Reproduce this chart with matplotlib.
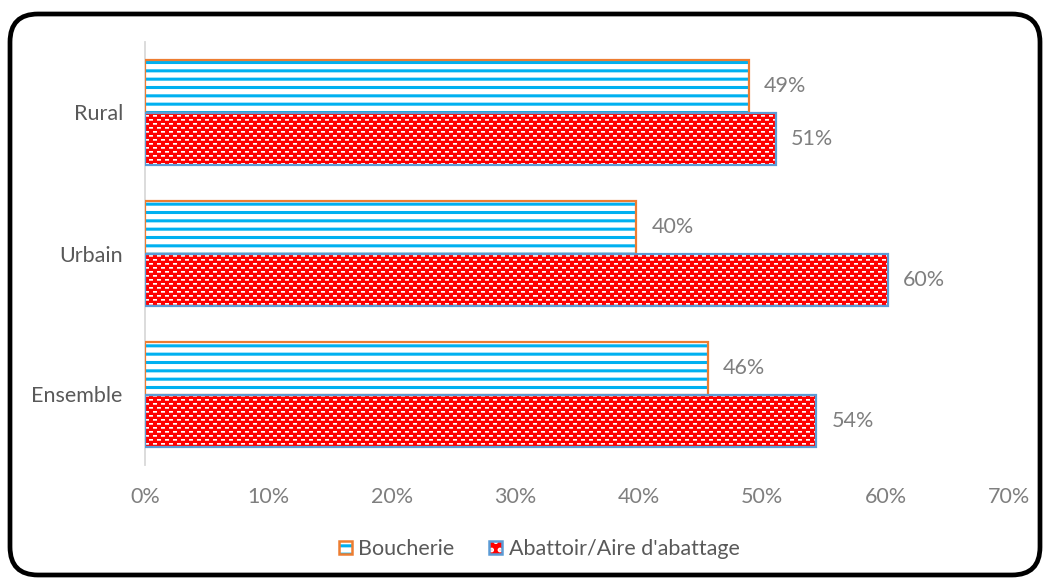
import numpy as np
import matplotlib
matplotlib.use("Agg")
import matplotlib.pyplot as plt
from matplotlib.patches import FancyBboxPatch, Patch
from matplotlib.legend_handler import HandlerTuple
from matplotlib.transforms import IdentityTransform

# Data
categories = ["Ensemble", "Urbain", "Rural"]
boucherie = [45.6, 39.8, 48.9]
abattoir = [54.4, 60.2, 51.1]
series_names = ["Boucherie", "Abattoir/Aire d'abattage"]
xticks = [0, 10, 20, 30, 40, 50, 60, 70]

FONT = ["Lato", "DejaVu Sans"]
plt.rcParams["font.family"] = FONT
FS = 15.5

W, H, DPI = 1045, 581, 100
fig = plt.figure(figsize=(W / DPI, H / DPI), dpi=DPI)
fig.patch.set_facecolor("white")

ax = fig.add_axes([145 / W, 1 - 465 / H, (1009 - 145) / W, (465 - 42) / H])

bar_h = 0.369
y = np.arange(len(categories))

ORANGE = "#ED7D31"
CYAN = "#00B0F0"
RED = "#FF0000"
BLUE_EDGE = "#5B9BD5"
TXT = "#7F7F7F"
LBL = "#595959"

plt.rcParams["hatch.linewidth"] = 2.2

# Boucherie: white fill with cyan horizontal stripes, orange outline
b1 = ax.barh(y + bar_h / 2, boucherie, height=bar_h, facecolor="white",
             edgecolor=CYAN, linewidth=0, hatch="--", zorder=3)
for p in b1:
    ax.add_patch(plt.Rectangle((p.get_x(), p.get_y()), p.get_width(), p.get_height(),
                               fill=False, edgecolor=ORANGE, linewidth=1.6, zorder=4))

# Abattoir: red fill with white dash texture, blue outline
b2 = ax.barh(y - bar_h / 2, abattoir, height=bar_h, facecolor=RED,
             edgecolor=BLUE_EDGE, linewidth=0, zorder=3)

ax.set_xlim(0, 70)
ax.set_ylim(-0.5, 2.5)

pw, ph = 1009 - 145, 465 - 42
tile = np.zeros((8, 8, 3))
tile[:] = (1.0, 0.0, 0.0)
tile[1, 0:4] = (1.0, 1.0, 1.0)
tile[2, 0:4] = (1.0, 0.72, 0.72)
tile[5, 4:8] = (1.0, 1.0, 1.0)
tile[6, 4:8] = (1.0, 0.72, 0.72)
tex = np.tile(tile, (ph // 8 + 1, pw // 8 + 1, 1))[:ph, :pw]
for p in b2:
    im = ax.imshow(tex, extent=(0, 70, -0.5, 2.5), aspect="auto",
                   interpolation="nearest", zorder=3.5, origin="upper")
    im.set_clip_path(p)
for p in b2:
    ax.add_patch(plt.Rectangle((p.get_x(), p.get_y()), p.get_width(), p.get_height(),
                               fill=False, edgecolor=BLUE_EDGE, linewidth=1.6, zorder=4))

# Value labels
for bars, vals in ((b1, boucherie), (b2, abattoir)):
    for p, v in zip(bars, vals):
        ax.annotate(f"{v:.0f}%", (p.get_width(), p.get_y() + p.get_height() / 2),
                    xytext=(11, 0), textcoords="offset points",
                    ha="left", va="center", fontsize=FS, color=TXT)

ax.set_yticks(y)
ax.set_yticklabels(categories, fontsize=FS, color=LBL)
ax.set_xticks(xticks)
ax.set_xticklabels([f"{t}%" for t in xticks], fontsize=FS, color=TXT)
ax.tick_params(axis="both", length=0)
ax.tick_params(axis="y", pad=16)
ax.tick_params(axis="x", pad=16)

for s in ("top", "right", "bottom"):
    ax.spines[s].set_visible(False)
ax.spines["left"].set_color("#D9D9D9")
ax.spines["left"].set_linewidth(1.3)
ax.set_facecolor("none")

# Legend
handles = [
    (Patch(facecolor="white", edgecolor=CYAN, hatch="--", linewidth=0),
     Patch(fill=False, edgecolor=ORANGE, linewidth=1.8)),
    (Patch(facecolor=RED, edgecolor="white", hatch="..", linewidth=0),
     Patch(fill=False, edgecolor=BLUE_EDGE, linewidth=1.8)),
]
leg = fig.legend(handles, series_names, loc="center", ncol=2,
                 handler_map={tuple: HandlerTuple(ndivide=1)},
                 bbox_to_anchor=(0.516, 1 - 549 / H), frameon=False,
                 fontsize=FS, handlelength=0.6, handleheight=0.6,
                 handletextpad=0.3, columnspacing=1.6, labelcolor=LBL)

# Rounded outer frame
frame = FancyBboxPatch((10, 6), 1030, 561,
                       boxstyle="round,pad=0,rounding_size=28",
                       transform=IdentityTransform(), facecolor="none",
                       edgecolor="black", linewidth=3.4, zorder=10)
fig.patches.append(frame)

fig.savefig("out.png", dpi=DPI)
